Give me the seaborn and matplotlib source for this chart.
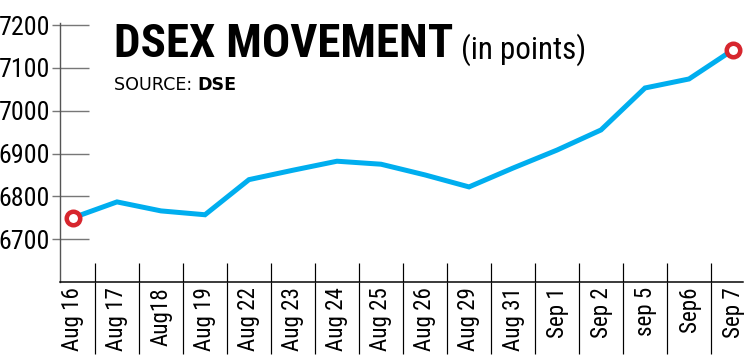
import numpy as np
import pandas as pd
import matplotlib
matplotlib.use("Agg")
import matplotlib.pyplot as plt
import seaborn as sns
from matplotlib import font_manager
from matplotlib.ticker import FixedLocator

# dữ liệu
dates = ["Aug 16", "Aug 17", "Aug18", "Aug 19", "Aug 22", "Aug 23", "Aug 24", "Aug 25",
         "Aug 26", "Aug 29", "Aug 31", "Sep 1", "Sep 2", "sep 5", "Sep6", "Sep 7"]
dsex = [6750, 6787, 6766, 6757, 6839, 6861, 6882, 6875,
        6850, 6822, 6866, 6908, 6955, 7053, 7074, 7142]
yticks = [6700, 6800, 6900, 7000, 7100, 7200]

LINE_BLUE = "#00AEEF"
RING_RED = "#D7262E"
PX = 72 / 100  # pixel -> point

# tìm font hẹp có sẵn
fonts = font_manager.fontManager.ttflist
names = {f.name for f in fonts}
narrow_family, narrow_stretch = "DejaVu Sans", "normal"
for cand in ["Liberation Sans Narrow", "Roboto Condensed", "Open Sans Condensed",
             "Noto Sans Condensed"]:
    if cand in names:
        narrow_family = cand
        break
else:
    for f in fonts:
        if f.name in ("Noto Sans", "Open Sans", "DejaVu Sans", "Roboto") and \
                str(f.stretch) in ("condensed", "semi-condensed", "extra-condensed", "75", "87"):
            narrow_family, narrow_stretch = f.name, "condensed"
            break
NARROW = [narrow_family, "DejaVu Sans"]

df = pd.DataFrame({"pos": np.arange(len(dates)), "value": dsex})

sns.set_style("white")
plt.rcParams["font.family"] = NARROW
plt.rcParams["font.stretch"] = narrow_stretch

fig = plt.figure(figsize=(7.47, 3.58), dpi=100)
ax = fig.add_axes([60 / 747, 76 / 358, 683 / 747, 258.7 / 358])

sns.lineplot(data=df, x="pos", y="value", color=LINE_BLUE, linewidth=5 * PX, ax=ax,
             solid_joinstyle="miter", zorder=2)
ends = df.iloc[[0, -1]]
sns.scatterplot(data=ends, x="pos", y="value", marker="o", s=(13.5 * PX) ** 2,
                facecolor="white", edgecolor=RING_RED, linewidth=4.5 * PX, ax=ax, zorder=3)

ax.set_xlim(-0.295, len(dates) - 1 + 0.227)
ax.set_ylim(6600, 7204)
ax.set_xlabel("")
ax.set_ylabel("")

# trục y: vạch kéo vào trong dài, ra ngoài ngắn
ax.yaxis.remove_overlapping_locs = False
ax.yaxis.set_major_locator(FixedLocator(yticks))
ax.yaxis.set_minor_locator(FixedLocator(yticks))
ax.set_yticklabels([str(v) for v in yticks])
ax.tick_params(axis="y", which="major", left=True, direction="in", length=29 * PX,
               width=1.4 * PX, color="#777777", labelsize=26 * PX, labelcolor="black",
               pad=10 * PX)
ax.tick_params(axis="y", which="minor", left=True, direction="out", length=8 * PX,
               width=1.4 * PX, color="#777777")

# trục x: nhãn ở các điểm, vạch ngăn cách ở giữa
seps = np.arange(len(dates) - 1) + 0.5
ax.xaxis.set_major_locator(FixedLocator(df["pos"].tolist()))
ax.set_xticklabels(dates, rotation=90)
ax.xaxis.set_minor_locator(FixedLocator(seps))
ax.tick_params(axis="x", which="major", bottom=True, length=0, labelsize=23 * PX,
               labelcolor="black", pad=5 * PX)
ax.tick_params(axis="x", which="minor", bottom=True, direction="out", length=72 * PX,
               width=1.2 * PX, color="black")
ax.vlines(seps, 0, 19 / 258.7, transform=ax.get_xaxis_transform(), color="black",
          linewidth=1.2 * PX, zorder=1)

sns.despine(ax=ax, top=True, right=True)
ax.spines["left"].set_color("#555555")
ax.spines["left"].set_linewidth(1.4 * PX)
ax.spines["bottom"].set_color("black")
ax.spines["bottom"].set_linewidth(1.5 * PX)
ax.grid(False)

# tiêu đề
title = fig.text(114 / 747, 1 - 57 / 358, "DSEX MOVEMENT", fontsize=47 * PX,
                 fontweight="black", color="black", va="baseline")
ax.annotate("(in points)", xy=(1, 0), xycoords=title, xytext=(8 * PX, 0),
            textcoords="offset points", fontsize=31 * PX,
            va="bottom", ha="left", color="black")
src = fig.text(114 / 747, 1 - 90 / 358, "SOURCE: ", fontsize=17.5 * PX,
               family=["DejaVu Sans"], stretch="normal", color="black", va="baseline")
ax.annotate("DSE", xy=(1, 0), xycoords=src, xytext=(0, 0), textcoords="offset points",
            fontsize=17.5 * PX, fontweight="bold", family=["DejaVu Sans"], stretch="normal",
            va="bottom", ha="left", color="black")

fig.savefig("out.png", dpi=100)
